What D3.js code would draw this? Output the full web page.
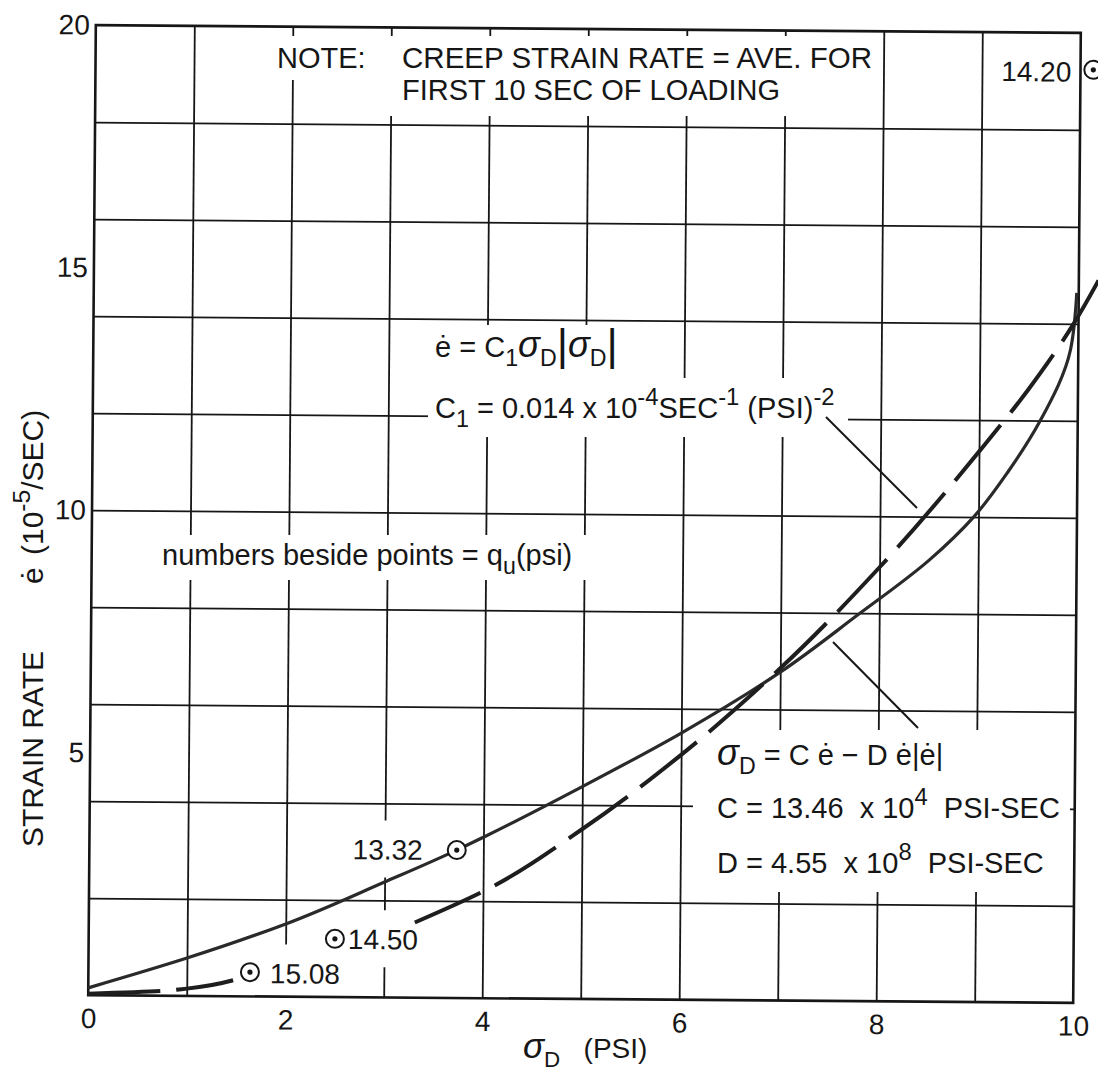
<!DOCTYPE html>
<html>
<head>
<meta charset="utf-8">
<title>Strain rate vs deviator stress</title>
<script src="https://cdn.jsdelivr.net/npm/d3@7"></script>
<style>
  body { margin: 0; background: #fff; }
  svg { display: block; }
  text { font-family: "Liberation Sans", Arial, sans-serif; fill: #161616; }
</style>
</head>
<body>
<div id="chart"></div>
<script>
// ticks and grid
let x_tick_values = [0, 2, 4, 6, 8, 10];
let y_tick_values = [5, 10, 15, 20];
let x_grid_values = [1, 2, 3, 4, 5, 6, 7, 8, 9];
let y_grid_values = [2, 4, 6, 8, 10, 12, 14, 16, 18];

// solid curve  sigma_D = C e' - D e'|e'|   (stress psi, rate 1e-5/sec)
let solid_stress = [0, 1, 2, 3, 3.73, 4, 5, 6, 7, 7.78, 8.5, 8.95, 9.3, 9.62, 9.92, 9.98];
let solid_rate   = [0.15, 0.78, 1.5, 2.38, 3.05, 3.32, 4.38, 5.5, 6.77, 7.96, 9.1, 10.0, 10.95, 12.0, 13.46, 14.64];

// dashed curve  e' = C1 sigma_D|sigma_D|   (null : not drawn behind the labels)
let dashed_stress = [0, 0.76, 1.0, 1.47, 2.4, 3.31, 4, 5, 6, 7, 8, 9, 9.5, 9.95, 10.2];
let dashed_rate   = [0.03, 0.1, 0.15, 0.33, null, 1.55, 2.2, 3.5, 5.05, 6.85, 8.95, 11.35, 12.65, 14.0, 14.9];

// test points, q_u (psi) written beside each
let point_stress = [3.73, 2.50, 1.64, 10.13];
let point_rate   = [3.05, 1.20, 0.50, 19.24];
let point_qu     = ["13.32", "14.50", "15.08", "14.20"];

let w = 1098, h = 1072;
let p_left = 92, p_right = 1077, p_top = 29, p_bottom = 999;
// the scanned sheet is turned a little
let tilt = "rotate(0.45," + (p_left + p_right) / 2 + "," + (p_top + p_bottom) / 2 + ")";
let ink = "#161616";

let svg = d3.select("#chart")
  .append("svg")
    .attr("width", w)
    .attr("height", h)
    .attr("viewBox", "0 0 " + w + " " + h);

let xScale = d3.scaleLinear().domain([0, 10]).range([p_left, p_right]);
let yScale = d3.scaleLinear().domain([0, 20]).range([p_bottom, p_top]);

function rich_text(g, x, y, parts, size){
  let t = g.append("text").attr("x", x).attr("y", y).attr("font-size", size);
  let shift = 0;
  parts.forEach(function(p){
    let kind = p[1] || "";
    let want = kind === "sup" ? -0.45 * size : kind === "sub" ? 0.32 * size : kind === "bar" ? 0.12 * size : 0;
    let ts = t.append("tspan").attr("dy", want - shift).text(p[0]);
    if (kind === "sup") ts.attr("font-size", size * 0.82);
    if (kind === "sub") ts.attr("font-size", size * 0.8);
    if (kind === "sig") ts.attr("font-size", size * 1.25).attr("font-style", "italic");
    if (kind === "bar") ts.attr("font-size", size * 1.5);
    shift = want;
  });
  return t;
}

// grid
let grid = svg.append("g").attr("transform", tilt);
grid.append("g")
    .attr("transform", "translate(0," + p_bottom + ")")
    .call(d3.axisBottom(xScale).tickValues(x_grid_values).tickSize(-(p_bottom - p_top)).tickFormat(""))
    .call(g => g.select(".domain").remove());
grid.append("g")
    .attr("transform", "translate(" + p_left + ",0)")
    .call(d3.axisLeft(yScale).tickValues(y_grid_values).tickSize(-(p_right - p_left)).tickFormat(""))
    .call(g => g.select(".domain").remove());
grid.selectAll(".tick line").attr("stroke", ink).attr("stroke-width", 1.8);

// white patches where the lettering was put over the grid
let masks = [[268, 36, 610, 44], [385, 76, 405, 40], [428, 325, 197, 58], [428, 378, 420, 59],
             [150, 535, 445, 45], [693, 730, 377, 162]];
svg.append("g").selectAll("rect").data(masks).join("rect")
    .attr("x", d => d[0]).attr("y", d => d[1])
    .attr("width", d => d[2]).attr("height", d => d[3])
    .attr("fill", "#fff");

let plot = svg.append("g").attr("transform", tilt);
let label_masks = plot.append("g");

plot.append("rect")
    .attr("x", p_left).attr("y", p_top)
    .attr("width", p_right - p_left).attr("height", p_bottom - p_top)
    .attr("fill", "none").attr("stroke", ink).attr("stroke-width", 2.6);

// tick labels
let xa = plot.append("g")
    .attr("transform", "translate(0," + p_bottom + ")")
    .call(d3.axisBottom(xScale).tickValues(x_tick_values).tickSize(0).tickPadding(13).tickFormat(d3.format("d")));
let ya = plot.append("g")
    .attr("transform", "translate(" + p_left + ",0)")
    .call(d3.axisLeft(yScale).tickValues(y_tick_values).tickSize(0).tickPadding(6).tickFormat(d3.format("d")));
[xa, ya].forEach(function(a){
  a.select(".domain").remove();
  a.attr("font-family", null).attr("font-size", null);
  a.selectAll("text").attr("font-size", 28).attr("fill", ink);
});

// curves
let line = d3.line()
    .defined(d => d[1] !== null)
    .x(d => xScale(d[0]))
    .y(d => yScale(d[1]))
    .curve(d3.curveMonotoneY);

plot.append("path")
    .datum(d3.zip(solid_stress, solid_rate))
    .attr("d", line)
    .attr("fill", "none").attr("stroke", "#2a2a2a").attr("stroke-width", 3.2);

plot.append("path")
    .datum(d3.zip(dashed_stress, dashed_rate))
    .attr("d", line)
    .attr("fill", "none").attr("stroke", "#1e1e1e").attr("stroke-width", 4)
    .attr("stroke-dasharray", "72,16");

// points
let label_place = {"13.32": [-34, 10, "end"], "14.50": [13, 10, "start"],
                   "15.08": [20, 11, "start"], "14.20": [-22, 12, "end"]};
let pts = plot.selectAll(".pt").data(d3.range(point_qu.length)).join("g")
    .attr("class", "pt")
    .attr("transform", i => "translate(" + xScale(point_stress[i]) + "," + yScale(point_rate[i]) + ")");
pts.append("circle").attr("r", 9).attr("fill", "#fff").attr("stroke", ink).attr("stroke-width", 2);
pts.append("circle").attr("r", 2.6).attr("fill", ink);
pts.append("text")
    .attr("x", i => label_place[point_qu[i]][0])
    .attr("y", i => label_place[point_qu[i]][1])
    .attr("text-anchor", i => label_place[point_qu[i]][2])
    .attr("font-size", 28)
    .text(i => point_qu[i])
    .each(function(i){
      let b = this.getBBox();
      label_masks.append("rect")
        .attr("x", xScale(point_stress[i]) + b.x - 7)
        .attr("y", yScale(point_rate[i]) + b.y - 14)
        .attr("width", b.width + 14)
        .attr("height", b.height + 26)
        .attr("fill", "#fff");
    });

// axis titles
let notes = svg.append("g");
rich_text(notes, 523, 1058, [["σ", "sig"], ["D", "sub"], ["\u00a0\u00a0\u00a0(PSI)"]], 28);

let yt = notes.append("g").attr("font-size", 30);
yt.append("text").attr("transform", "translate(43,847) rotate(-90)").text("STRAIN RATE");
yt.append("text").attr("transform", "translate(43,584) rotate(-90)").attr("font-size", 30).text("ė");
rich_text(yt.append("g").attr("transform", "translate(43,555) rotate(-90)"), 0, 0,
          [["(10"], ["-5", "sup"], ["/SEC)"]], 30);

// lettering on the sheet
notes.append("text").attr("x", 277).attr("y", 68).attr("font-size", 29).text("NOTE:");
notes.append("text").attr("x", 402).attr("y", 68).attr("font-size", 29)
    .attr("textLength", 470).attr("lengthAdjust", "spacingAndGlyphs")
    .text("CREEP STRAIN RATE = AVE. FOR");
notes.append("text").attr("x", 402).attr("y", 100).attr("font-size", 29)
    .attr("textLength", 378).attr("lengthAdjust", "spacingAndGlyphs")
    .text("FIRST 10 SEC OF LOADING");

rich_text(notes, 435, 357, [["ė = C"], ["1", "sub"], ["σ", "sig"], ["D", "sub"], ["|", "bar"],
                            ["σ", "sig"], ["D", "sub"], ["|", "bar"]], 29);
rich_text(notes, 435, 418, [["C"], ["1", "sub"], [" = 0.014 x 10"], ["-4", "sup"], ["SEC"],
                            ["-1", "sup"], [" (PSI)"], ["-2", "sup"]], 29);
rich_text(notes, 162, 565, [["numbers beside points = q"], ["u", "sub"], ["(psi)"]], 29);

rich_text(notes, 717, 765, [["σ", "sig"], ["D", "sub"], [" = C ė \u2212 D ė|ė|"]], 29);
rich_text(notes, 717, 818, [["C = 13.46\u00a0 x 10"], ["4", "sup"], ["\u00a0 PSI-SEC"]], 29);
rich_text(notes, 717, 873, [["D = 4.55\u00a0 x 10"], ["8", "sup"], ["\u00a0 PSI-SEC"]], 29);

// leaders from the formulas to their curves
let leaders = [[826, 417, 917, 508], [833, 642, 918, 728]];
notes.selectAll("line").data(leaders).join("line")
    .attr("x1", d => d[0]).attr("y1", d => d[1])
    .attr("x2", d => d[2]).attr("y2", d => d[3])
    .attr("stroke", ink).attr("stroke-width", 2);
</script>
</body>
</html>
